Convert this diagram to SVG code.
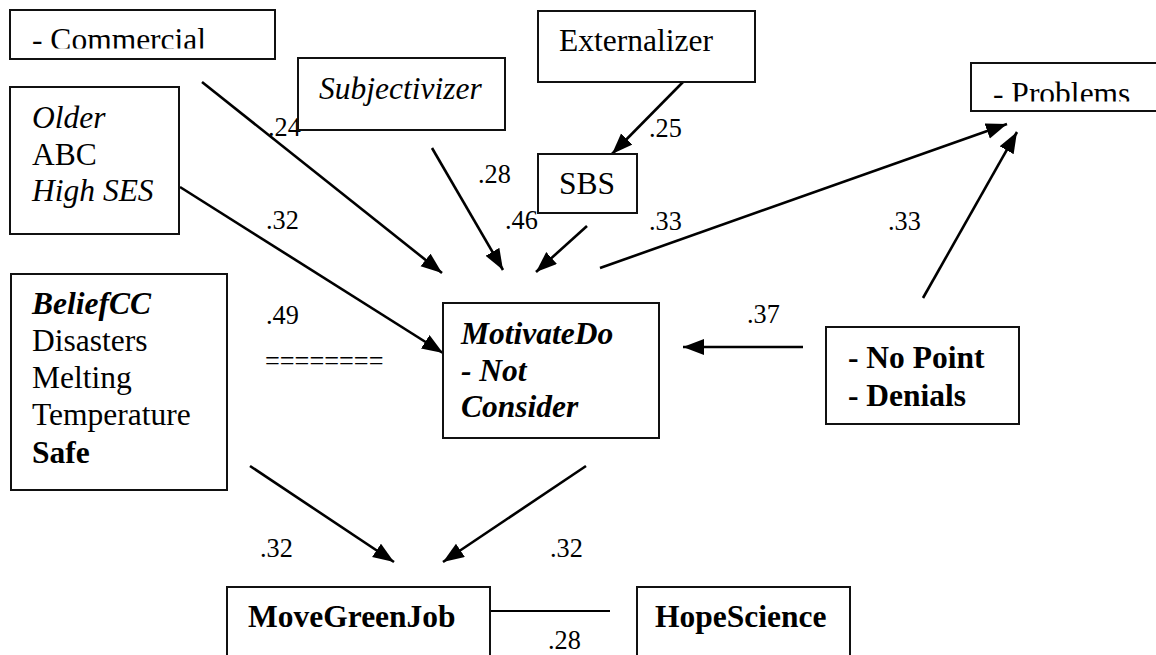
<svg xmlns="http://www.w3.org/2000/svg" width="1156" height="655" viewBox="0 0 1156 655">
<style>
.box{fill:#fff;stroke:#111;stroke-width:2}
text{font-family:"Liberation Serif","Tinos","Times New Roman",Times,"DejaVu Serif",serif;fill:#000}
.t{font-size:31.5px}
.n{font-size:26.25px}
.i{font-style:italic}
.b{font-weight:bold}
.c{stroke:#000;stroke-width:2.6;fill:none}
.a{marker-end:url(#ah)}
</style>
<defs>
<marker id="ah" markerUnits="userSpaceOnUse" markerWidth="24" markerHeight="18" refX="21" refY="8" orient="auto">
<path d="M0,0 L21,8 L0,16 Z" fill="#000"/>
</marker>
<clipPath id="clipCom"><rect x="0" y="0" width="300" height="48.5"/></clipPath>
<clipPath id="clipProb"><rect x="960" y="0" width="200" height="101.5"/></clipPath>
</defs>
<rect width="1156" height="655" fill="#fff"/>

<g id="connectors" font-family="Liberation Serif, Times New Roman, serif">
<line class="c a" x1="202" y1="82" x2="442" y2="273"/>
<line class="c a" x1="180" y1="187" x2="443" y2="353"/>
<line class="c a" x1="432" y1="148" x2="503" y2="270"/>
<line class="c a" x1="587" y1="226" x2="536" y2="272"/>
<line class="c a" x1="683" y1="82" x2="612" y2="154"/>
<line class="c a" x1="600" y1="268" x2="1007" y2="124"/>
<line class="c a" x1="923" y1="298" x2="1017" y2="132"/>
<line class="c a" x1="803" y1="347" x2="683" y2="347"/>
<line class="c a" x1="250" y1="466" x2="394" y2="562"/>
<line class="c a" x1="586" y1="466" x2="443" y2="562"/>
<line class="c" x1="490" y1="611" x2="610" y2="611" style="stroke-width:2"/>
<text class="n" x="268" y="136">.24</text>
<text class="n" x="478" y="183">.28</text>
<text class="n" x="266" y="229">.32</text>
<text class="n" x="505" y="229">.46</text>
<text class="n" x="649" y="137">.25</text>
<text class="n" x="649" y="230">.33</text>
<text class="n" x="888" y="230">.33</text>
<text class="n" x="266" y="324">.49</text>
<text class="n" x="265" y="370">========</text>
<text class="n" x="747" y="323">.37</text>
<text class="n" x="260" y="557">.32</text>
<text class="n" x="550" y="557">.32</text>
<text class="n" x="548" y="649">.28</text>
</g>

<g id="commercial">
<rect class="box" x="10" y="10" width="265" height="49"/>
<text class="t" x="32" y="50" clip-path="url(#clipCom)">- Commercial</text>
</g>

<g id="older">
<rect class="box" x="10" y="87" width="169" height="147"/>
<text class="t" x="32" y="128"><tspan class="i">Older</tspan><tspan x="32" dy="36.5">ABC</tspan><tspan x="32" dy="36.5" class="i">High SES</tspan></text>
</g>

<g id="subjectivizer">
<rect class="box" x="298" y="58" width="207" height="72"/>
<text class="t i" x="319" y="99">Subjectivizer</text>
</g>

<g id="externalizer">
<rect class="box" x="538" y="11" width="217" height="71"/>
<text class="t" x="559" y="51">Externalizer</text>
</g>

<g id="sbs">
<rect class="box" x="538" y="154" width="99" height="59"/>
<text class="t" x="559" y="194">SBS</text>
</g>

<g id="problems">
<rect class="box" x="971" y="63" width="200" height="48"/>
<text class="t" x="993" y="104" clip-path="url(#clipProb)">- Problems</text>
</g>

<g id="beliefcc">
<rect class="box" x="11" y="274" width="216" height="216"/>
<text class="t" x="32" y="314"><tspan class="b i">BeliefCC</tspan><tspan x="32" dy="37">Disasters</tspan><tspan x="32" dy="37">Melting</tspan><tspan x="32" dy="37">Temperature</tspan><tspan x="32" dy="38" class="b">Safe</tspan></text>
</g>

<g id="motivatedo">
<rect class="box" x="443" y="303" width="216" height="135"/>
<text class="t b i" x="461" y="344">MotivateDo<tspan x="461" dy="37">- Not</tspan><tspan x="461" dy="36">Consider</tspan></text>
</g>

<g id="nopoint">
<rect class="box" x="826" y="327" width="193" height="97"/>
<text class="t b" x="848" y="368">- No Point<tspan x="848" dy="38">- Denials</tspan></text>
</g>

<g id="movegreenjob">
<rect class="box" x="227" y="587" width="263" height="80"/>
<text class="t b" x="248" y="627">MoveGreenJob</text>
</g>

<g id="hopescience">
<rect class="box" x="637" y="587" width="213" height="80"/>
<text class="t b" x="655" y="627">HopeScience</text>
</g>
</svg>
